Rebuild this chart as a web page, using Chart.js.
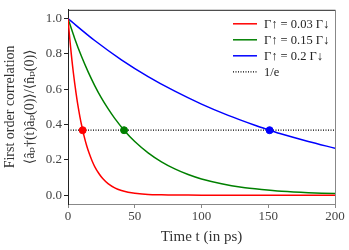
<!DOCTYPE html>
<html>
<head>
<meta charset="utf-8">
<script src="https://cdn.jsdelivr.net/npm/chart.js@4/dist/chart.umd.min.js"></script>
<style>
  html, body { margin: 0; padding: 0; background: #fff; }
  #wrap { width: 349px; height: 250px; }
</style>
</head>
<body>
<div id="wrap"><canvas id="corrChart" width="349" height="250"></canvas></div>
<script>
// Valores
const redTimes = [0, 1, 2, 3, 4, 5, 6, 7, 8, 9, 10, 12, 14, 16, 18, 20, 23, 26, 30, 35, 40, 45, 50, 60, 70, 80, 100, 130, 160, 200];
const redValues = [1, 0.913, 0.834, 0.761, 0.695, 0.635, 0.58, 0.529, 0.483, 0.441, 0.403, 0.336, 0.28, 0.234, 0.195, 0.162, 0.124, 0.094, 0.065, 0.041, 0.026, 0.017, 0.011, 0.004, 0.002, 0.001, 0, 0, 0, 0];

const greenTimes = [0, 5, 10, 15, 20, 25, 30, 35, 42, 50, 60, 70, 80, 90, 100, 115, 130, 145, 160, 180, 200];
const greenValues = [1, 0.888, 0.788, 0.7, 0.621, 0.551, 0.49, 0.435, 0.368, 0.304, 0.24, 0.189, 0.149, 0.117, 0.092, 0.065, 0.045, 0.032, 0.022, 0.014, 0.009];

const blueTimes = [0, 20, 40, 60, 80, 100, 120, 140, 151, 160, 180, 200];
const blueValues = [1, 0.876, 0.767, 0.672, 0.589, 0.516, 0.452, 0.396, 0.368, 0.346, 0.304, 0.266];

const seriesLabels = ['Γ↑ = 0.03 Γ↓', 'Γ↑ = 0.15 Γ↓', 'Γ↑ = 0.2 Γ↓', '1/e'];
const seriesColors = ['#ff0000', '#008000', '#0000ff', '#000000'];

const invE = 0.368;
const crossTimes = [11, 42, 151];
const xTicks = [0, 50, 100, 150, 200];
const yTicks = [0, 0.2, 0.4, 0.6, 0.8, 1.0];

const toPoints = (xs, ys) => xs.map((x, i) => ({ x: x, y: ys[i] }));

const FONT = "'Liberation Serif', 'DejaVu Serif', serif";

// Leyenda dentro del área del gráfico (arriba a la derecha)
const insideLegend = {
    id: 'insideLegend',
    afterDatasetsDraw(chart) {
        const ctx = chart.ctx;
        const area = chart.chartArea;
        const x0 = area.right - 102;
        ctx.save();
        ctx.font = '12.5px ' + FONT;
        ctx.textBaseline = 'middle';
        seriesLabels.forEach((label, i) => {
            const y = area.top + 14 + i * 16;
            ctx.beginPath();
            ctx.strokeStyle = seriesColors[i];
            ctx.lineWidth = i === 3 ? 1.2 : 1.5;
            ctx.setLineDash(i === 3 ? [1, 1.5] : []);
            ctx.moveTo(x0, y);
            ctx.lineTo(x0 + 24, y);
            ctx.stroke();
            ctx.setLineDash([]);
            ctx.fillStyle = '#222';
            ctx.fillText(label, x0 + 31, y + 0.5);
        });
        ctx.restore();
    }
};

// Marco: arriba y derecha
const frame = {
    id: 'frame',
    afterDraw(chart) {
        const ctx = chart.ctx;
        const a = chart.chartArea;
        ctx.save();
        ctx.lineWidth = 1;
        ctx.strokeStyle = '#222';
        ctx.beginPath();
        ctx.moveTo(a.left, a.top + 0.5);
        ctx.lineTo(a.right, a.top + 0.5);
        ctx.stroke();
        ctx.strokeStyle = '#888';
        ctx.beginPath();
        ctx.moveTo(a.right + 0.5, a.top);
        ctx.lineTo(a.right + 0.5, a.bottom);
        ctx.stroke();
        ctx.restore();
    }
};

const lineStyle = (label, color, pts) => ({
    label: label,
    data: pts,
    borderColor: color,
    backgroundColor: color,
    borderWidth: 1.5,
    pointRadius: 0,
    tension: 0.3,
    fill: false
});

new Chart(document.getElementById('corrChart').getContext('2d'), {
    type: 'line',
    data: {
        datasets: [
            {
                label: 'markers',
                type: 'scatter',
                data: crossTimes.map(t => ({ x: t, y: invE })),
                pointRadius: 3.5,
                pointBackgroundColor: seriesColors.slice(0, 3),
                pointBorderColor: seriesColors.slice(0, 3),
                showLine: false,
                order: 0
            },
            Object.assign(lineStyle(seriesLabels[3], '#000', toPoints([0, 200], [invE, invE])), {
                borderDash: [1, 1.5], borderWidth: 1.2, tension: 0, order: 1
            }),
            Object.assign(lineStyle(seriesLabels[0], seriesColors[0], toPoints(redTimes, redValues)), { order: 2 }),
            Object.assign(lineStyle(seriesLabels[1], seriesColors[1], toPoints(greenTimes, greenValues)), { order: 3 }),
            Object.assign(lineStyle(seriesLabels[2], seriesColors[2], toPoints(blueTimes, blueValues)), { order: 4 })
        ]
    },
    options: {
        responsive: false,
        animation: false,
        layout: { padding: { top: 5, right: 14, left: 0, bottom: 0 } },
        plugins: {
            legend: { display: false },
            tooltip: { enabled: false }
        },
        scales: {
            x: {
                type: 'linear',
                min: 0,
                max: 200,
                afterBuildTicks: s => { s.ticks = xTicks.map(v => ({ value: v })); },
                afterFit: s => { s.height = 46; },
                grid: { drawOnChartArea: false, drawTicks: true, tickLength: 4, color: '#888' },
                border: { color: '#888', width: 1 },
                ticks: { color: '#444', font: { family: FONT, size: 13 }, padding: 1 },
                title: {
                    display: true,
                    text: 'Time t (in ps)',
                    color: '#333',
                    font: { family: FONT, size: 15 },
                    padding: { top: 1 }
                }
            },
            y: {
                type: 'linear',
                min: -0.05,
                max: 1.05,
                afterBuildTicks: s => { s.ticks = yTicks.map(v => ({ value: v })); },
                afterFit: s => { s.width = 68; },
                grid: { drawOnChartArea: false, drawTicks: true, tickLength: 4, color: '#222' },
                border: { color: '#222', width: 1 },
                ticks: {
                    color: '#444',
                    font: { family: FONT, size: 13 },
                    padding: 2,
                    callback: v => v.toFixed(1)
                },
                title: {
                    display: true,
                    text: ['First order correlation', '⟨âₚ†(t)âₚ(0)⟩/⟨n̂ₚ(0)⟩'],
                    color: '#333',
                    font: { family: FONT, size: 14, lineHeight: 1.45 },
                    padding: { top: 0, bottom: 2 }
                }
            }
        }
    },
    plugins: [insideLegend, frame]
});
</script>
</body>
</html>
